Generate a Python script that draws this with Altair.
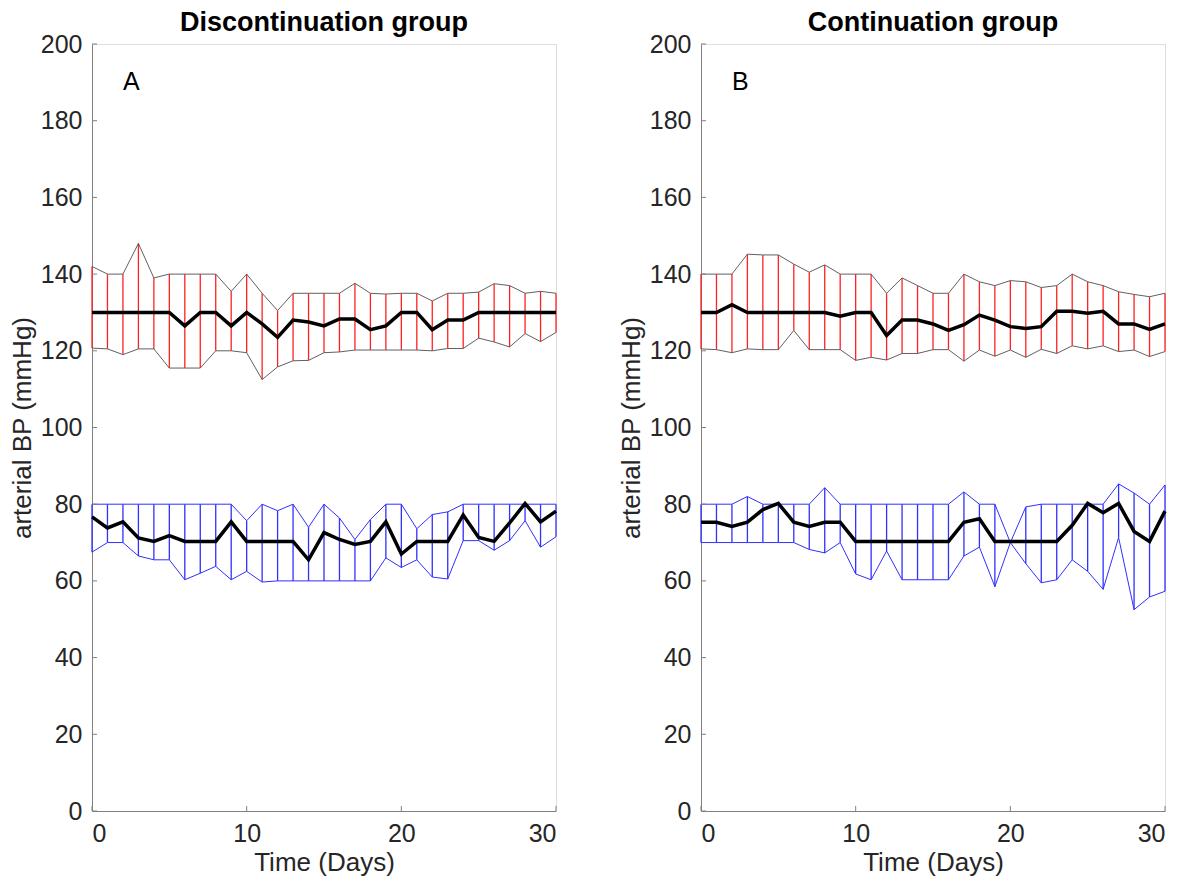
import altair as alt
import pandas as pd

days = list(range(31))

# Panel A - Discontinuation group
a_sys_hi = [142, 140, 140, 148, 139, 140, 140, 140, 140, 135.5, 140, 135, 130.5, 135, 135, 135,
            135, 137.6, 135, 134.8, 135, 135, 133, 135, 135, 135.3, 137.5, 137, 135, 135.5, 135]
a_sys_lo = [120.7, 120.5, 119, 120.5, 120.5, 115.5, 115.5, 115.5, 120, 120, 119.5, 112.5, 115.8, 117.4, 117.5, 119.5,
            119.7, 120.2, 120.2, 120.2, 120.2, 120.2, 120, 120.6, 120.6, 123.3, 122.3, 121, 124.5, 122.4, 124.8]
a_sys_med = [130, 130, 130, 130, 130, 130, 126.5, 130, 130, 126.5, 130, 127, 123.5, 128, 127.5, 126.5,
             128.3, 128.3, 125.5, 126.5, 130, 130, 125.5, 128, 128, 130, 130, 130, 130, 130, 130]
a_dia_hi = [80, 80, 80, 80, 80, 80, 80, 80, 80, 80, 75.7, 80, 78.3, 80, 74, 80,
            76.4, 70.8, 76, 80, 80, 73.6, 77.3, 78, 80, 80, 80, 80, 80, 80, 80]
a_dia_lo = [67.5, 70, 70, 66.5, 65.5, 65.5, 60.3, 62, 63.8, 60.3, 62.5, 59.7, 60, 60, 60, 60,
            60, 60, 60, 66, 63.5, 65.5, 61, 60.5, 70.5, 70.5, 68, 70.5, 75.7, 68.8, 71.5]
a_dia_med = [76.7, 73.8, 75.4, 71.2, 70.3, 71.8, 70.3, 70.3, 70.3, 75.4, 70.3, 70.3, 70.3, 70.3, 65.5, 72.6,
             70.8, 69.5, 70.3, 75.4, 67, 70.3, 70.3, 70.3, 77.2, 71.3, 70.3, 75.1, 80.2, 75.4, 78.2]

# Panel B - Continuation group
b_sys_hi = [140, 140, 140, 145.2, 145, 145, 142.6, 140.5, 142.4, 140, 140, 140, 135, 139, 137, 135,
            135, 140, 138, 137, 138.3, 138, 136.5, 137, 140, 138, 137, 135.4, 134.7, 134.1, 135]
b_sys_lo = [120.5, 120.3, 119.5, 120.5, 120.3, 120.3, 125.3, 120.3, 120.3, 120.3, 117.5, 118.3, 117.6, 119.3, 119.3, 120.3,
            120.3, 117.3, 120.2, 118.6, 120.2, 118.3, 120.4, 119.3, 121.3, 120.5, 121.3, 119.8, 120.2, 118.5, 119.8]
b_sys_med = [130, 130, 132, 130, 130, 130, 130, 130, 130, 129, 130, 130, 124, 128, 128, 127,
             125.3, 126.8, 129.3, 128, 126.3, 125.8, 126.3, 130.3, 130.3, 129.8, 130.3, 127, 127, 125.6, 127]
b_dia_hi = [80, 80, 80, 82, 80, 80, 80, 80, 84.3, 80, 80, 80, 80, 80, 80, 80,
            80, 83.2, 80, 80, 70, 79.3, 80, 80, 80, 80, 80, 85.3, 82.9, 80, 85]
b_dia_lo = [70, 70, 70, 70, 70, 70, 70, 68.2, 67.3, 70, 61.8, 60.3, 67.8, 60.3, 60.3, 60.3,
            60.3, 66.5, 68.8, 58.5, 70, 64.5, 59.5, 60.3, 65.5, 62.5, 57.8, 71.3, 52.5, 55.8, 57.3]
b_dia_med = [75.3, 75.3, 74.2, 75.3, 78.6, 80.2, 75.3, 74.2, 75.3, 75.3, 70.3, 70.3, 70.3, 70.3, 70.3, 70.3,
             70.3, 75.3, 76.2, 70.3, 70.3, 70.3, 70.3, 70.3, 74.5, 80.2, 77.8, 80.2, 72.9, 70.3, 78.2]

titles = ["Discontinuation group", "Continuation group"]
letters = ["A", "B"]
y_ticks = [0, 20, 40, 60, 80, 100, 120, 140, 160, 180, 200]
x_ticks = [0, 10, 20, 30]

W, H = 464, 767
FONT = "Liberation Sans"
AXIS_GRAY = "#808080"
TXT = "#262626"
RED = "#ff2020"
BLUE = "#3030ff"


def verticals(lo, hi):
    rows = []
    for d, a, b in zip(days, lo, hi):
        rows.append({"day": d, "v": a})
        rows.append({"day": d, "v": b})
    return pd.DataFrame(rows)


def panel(sys_hi, sys_lo, sys_med, dia_hi, dia_lo, dia_med, title, letter):
    df = pd.DataFrame({
        "day": days, "sys_hi": sys_hi, "sys_lo": sys_lo, "sys_med": sys_med,
        "dia_hi": dia_hi, "dia_lo": dia_lo, "dia_med": dia_med,
    })
    xs = alt.Scale(domain=[0, 30], nice=False, zero=False)
    ys = alt.Scale(domain=[0, 200], nice=False)
    xax = alt.Axis(values=x_ticks, title="Time (Days)", grid=False, ticks=False,
                   domainColor=AXIS_GRAY, labelColor=TXT, titleColor=TXT,
                   labelFont=FONT, titleFont=FONT, labelFontSize=25, titleFontSize=26,
                   titleFontWeight="normal", labelPadding=10, titlePadding=3)
    yax = alt.Axis(values=y_ticks, title="arterial BP (mmHg)", grid=False, ticks=False,
                   domainColor=AXIS_GRAY, labelColor=TXT, titleColor=TXT,
                   labelFont=FONT, titleFont=FONT, labelFontSize=25, titleFontSize=26,
                   titleFontWeight="normal", labelPadding=10, titlePadding=5)
    base = alt.Chart(df)

    sys_v = alt.Chart(verticals(sys_lo, sys_hi)).mark_line(stroke=RED, strokeWidth=1.3).encode(
        x=alt.X("day:Q", scale=xs, axis=xax), y=alt.Y("v:Q", scale=ys, axis=yax), detail="day:N")
    dia_v = alt.Chart(verticals(dia_lo, dia_hi)).mark_line(stroke=BLUE, strokeWidth=1.3).encode(
        x="day:Q", y="v:Q", detail="day:N")

    sys_hi_l = base.mark_line(stroke="#606060", strokeWidth=1).encode(x="day:Q", y="sys_hi:Q")
    sys_lo_l = base.mark_line(stroke="#606060", strokeWidth=1).encode(x="day:Q", y="sys_lo:Q")
    sys_med_l = base.mark_line(stroke="black", strokeWidth=3.5).encode(x="day:Q", y="sys_med:Q")
    dia_hi_l = base.mark_line(stroke=BLUE, strokeWidth=1).encode(x="day:Q", y="dia_hi:Q")
    dia_lo_l = base.mark_line(stroke=BLUE, strokeWidth=1).encode(x="day:Q", y="dia_lo:Q")
    dia_med_l = base.mark_line(stroke="black", strokeWidth=3.5).encode(x="day:Q", y="dia_med:Q")

    ytk = alt.Chart(pd.DataFrame({"v": y_ticks})).mark_rule(stroke=AXIS_GRAY, strokeWidth=1).encode(
        y="v:Q", x=alt.value(0), x2=alt.value(5))
    xtk = alt.Chart(pd.DataFrame({"v": x_ticks})).mark_rule(stroke=AXIS_GRAY, strokeWidth=1).encode(
        x="v:Q", y=alt.value(H), y2=alt.value(H - 5))

    lab = alt.Chart(pd.DataFrame({"lx": [2], "ly": [190], "t": [letter]})).mark_text(
        align="left", baseline="middle", font=FONT, fontSize=25, color="black").encode(
        x="lx:Q", y="ly:Q", text="t:N")

    return alt.layer(sys_v, dia_v, sys_hi_l, sys_lo_l, dia_hi_l, dia_lo_l,
                     sys_med_l, dia_med_l, ytk, xtk, lab).properties(
        width=W, height=H,
        title=alt.TitleParams(title, font=FONT, fontSize=27, fontWeight="bold",
                              color="black", offset=-5, anchor="middle"))


left = panel(a_sys_hi, a_sys_lo, a_sys_med, a_dia_hi, a_dia_lo, a_dia_med, titles[0], letters[0])
right = panel(b_sys_hi, b_sys_lo, b_sys_med, b_dia_hi, b_dia_lo, b_dia_med, titles[1], letters[1])

chart = alt.hconcat(left, right, spacing=53).properties(
    padding={"left": 0, "top": 0, "right": 5, "bottom": 0}
).configure_view(stroke=None).configure(background="white")

chart.save("out.html", embed_options={"renderer": "svg", "actions": False})
